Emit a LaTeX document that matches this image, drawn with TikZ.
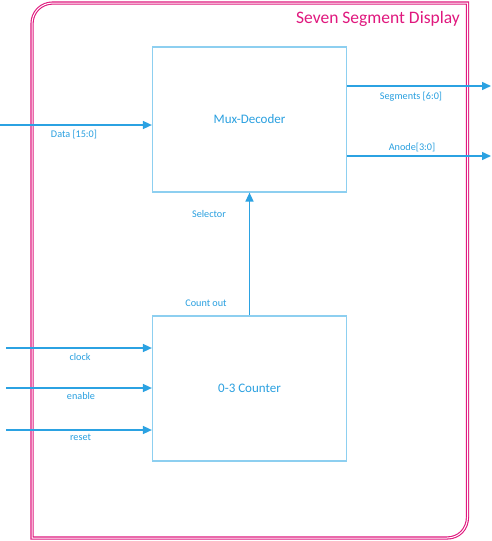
\documentclass[tikz,border=0pt]{standalone}
\usepackage{fontspec}
\setmainfont{Carlito}
\usetikzlibrary{arrows.meta}
\definecolor{frame}{HTML}{E0187E}
\definecolor{boxc}{HTML}{8DCFF0}
\definecolor{arr}{HTML}{2BA2E2}
\definecolor{txt}{HTML}{2AA0E0}
\tikzset{
  blk/.style={draw=boxc, line width=1.2pt, minimum width=194pt, minimum height=145pt, inner sep=0pt, text=txt, font=\fontsize{13}{15}\selectfont},
  sig/.style={draw=arr, line width=1.5pt, -{Triangle[length=9pt,width=8pt]}},
  lbl/.style={text=txt, font=\fontsize{10.2}{12}\selectfont, inner sep=0pt}
}
\begin{document}
\begin{tikzpicture}[x=1pt,y=-1pt]
\useasboundingbox (0,0) rectangle (491,541);
\fill[white] (0,0) rectangle (491,541);
% frame
\draw[frame, line width=3.2pt] (32,538) -- (32,24) .. controls (32,12) and (41,3) .. (53,3) -- (467.5,3) -- (467.5,517) .. controls (467.5,529) and (459,538) .. (447,538) -- cycle;
\draw[white, line width=1pt] (32,538) -- (32,24) .. controls (32,12) and (41,3) .. (53,3) -- (467.5,3) -- (467.5,517) .. controls (467.5,529) and (459,538) .. (447,538) -- cycle;
\node[anchor=east, text=frame, font=\fontsize{17.5}{20}\selectfont, inner sep=0pt] (title) at (460,19) {Seven Segment Display};
% blocks
\node[blk] (mux) at (249.5,119.5) {Mux-Decoder};
\node[blk] (cnt) at (249.5,388.5) {0-3 Counter};
% coordinates
\coordinate (din) at (0,125);
\coordinate (seg) at (491,86);
\coordinate (an) at (491,156);
\coordinate (clk) at (6,348);
\coordinate (en) at (6,388);
\coordinate (rst) at (6,430);
% arrows
\draw[sig] (din) -- (din -| mux.west);
\draw[sig] (seg -| mux.east) -- (seg);
\draw[sig] (an -| mux.east) -- (an);
\draw[sig] (cnt.north) -- (mux.south);
\draw[sig] (clk) -- (clk -| cnt.west);
\draw[sig] (en) -- (en -| cnt.west);
\draw[sig] (rst) -- (rst -| cnt.west);
% labels
\node[lbl] (ldata) at (74,135) {Data [15:0]};
\node[lbl] (lseg) at (411,97) {Segments [6:0]};
\node[lbl] (lan) at (412,147.5) {Anode[3:0]};
\node[lbl] (lsel) at (209,213.5) {Selector};
\node[lbl] (lcnt) at (206,303.5) {Count out};
\node[lbl] (lclk) at (80,357) {clock};
\node[lbl] (len) at (81,395.5) {enable};
\node[lbl] (lrst) at (80.5,437.5) {reset};
\end{tikzpicture}
\end{document}
